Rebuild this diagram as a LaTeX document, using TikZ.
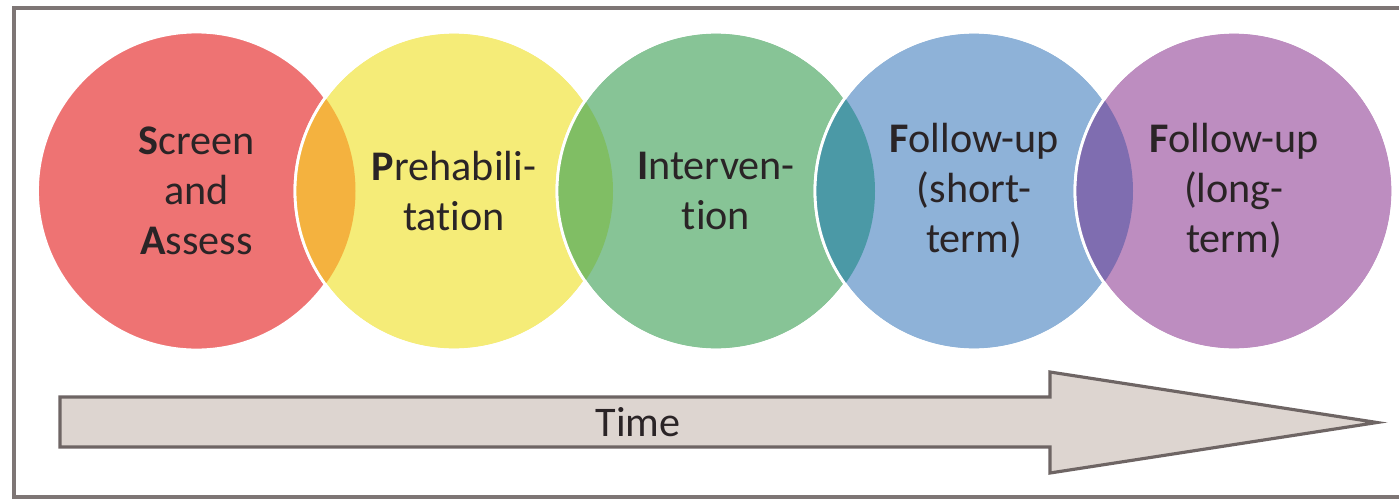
\documentclass[tikz,border=0pt]{standalone}
\usepackage{fontspec}
\setmainfont{Carlito}[Ligatures={NoCommon}]
\definecolor{cRed}{HTML}{EE7373}
\definecolor{cYel}{HTML}{F5EC78}
\definecolor{cGrn}{HTML}{87C496}
\definecolor{cBlu}{HTML}{8EB2D8}
\definecolor{cPur}{HTML}{BD8DC0}
\definecolor{lOra}{HTML}{F4B23F}
\definecolor{lGrn}{HTML}{80BE64}
\definecolor{lTea}{HTML}{4B99A6}
\definecolor{lPur}{HTML}{7F6DB0}
\definecolor{txt}{HTML}{2A2426}
\definecolor{frameC}{HTML}{7E7675}
\definecolor{arrFill}{HTML}{DDD5D0}
\definecolor{arrDraw}{HTML}{6E6564}
\tikzset{
  phase/.style={circle, minimum size=3.18cm, inner sep=0pt, outer sep=0pt, draw=white, line width=0.8pt, fill=#1, text=txt, align=center, font=\fontsize{12}{14.2}\selectfont},
  ring/.style={draw=white, line width=0.8pt},
  frameline/.style={draw=frameC, line width=0.9pt},
  timearrow/.style={draw=arrDraw, fill=arrFill, line width=0.9pt, line join=miter},
  lbl/.style={text=txt, font=\fontsize{12}{14.2}\selectfont}
}
\begin{document}
\begin{tikzpicture}
\useasboundingbox (0,0) rectangle (13.99,-4.99);
\fill[white] (0,0) rectangle (13.99,-4.99);
\begin{scope}
  \clip (0,0) rectangle (13.99,-4.99);
  \draw[frameline] (0.14,-0.08) rectangle (14.10,-4.97);
\end{scope}
% circles
\def\R{1.59}
\node[phase=cRed] (c1) at (1.965,-1.91) {\textbf{S}creen\\and\\\textbf{A}ssess};
\node[phase=cYel] (c2) at (4.54,-1.91) {\textbf{P}rehabili-\\tation};
\begin{scope}
  \clip (c1.center) circle[radius=\R];
  \fill[lOra] (c2.center) circle[radius=\R];
\end{scope}
\draw[ring] (c2.center) circle[radius=\R];
\node[phase=cGrn] (c3) at (7.16,-1.91) {\textbf{I}nterven-\\tion};
\begin{scope}
  \clip (c2.center) circle[radius=\R];
  \fill[lGrn] (c3.center) circle[radius=\R];
\end{scope}
\draw[ring] (c3.center) circle[radius=\R];
\node[phase=cBlu] (c4) at (9.74,-1.91) {\textbf{F}ollow-up\\(short-\\term)};
\begin{scope}
  \clip (c3.center) circle[radius=\R];
  \fill[lTea] (c4.center) circle[radius=\R];
\end{scope}
\draw[ring] (c4.center) circle[radius=\R];
\node[phase=cPur] (c5) at (12.34,-1.91) {\textbf{F}ollow-up\\(long-\\term)};
\begin{scope}
  \clip (c4.center) circle[radius=\R];
  \fill[lPur] (c5.center) circle[radius=\R];
\end{scope}
\draw[ring] (c5.center) circle[radius=\R];
% time arrow
\coordinate (a1) at (0.60,-3.97);
\coordinate (a2) at (10.50,-3.97);
\coordinate (a3) at (10.50,-3.72);
\coordinate (tip) at (13.77,-4.225);
\coordinate (a5) at (10.50,-4.73);
\coordinate (a6) at (10.50,-4.47);
\coordinate (a7) at (0.60,-4.47);
\draw[timearrow] (a1) -- (a2) -- (a3) -- (tip) -- (a5) -- (a6) -- (a7) -- cycle;
\node[lbl] (time) at (6.38,-4.22) {Time};
\end{tikzpicture}
\end{document}
